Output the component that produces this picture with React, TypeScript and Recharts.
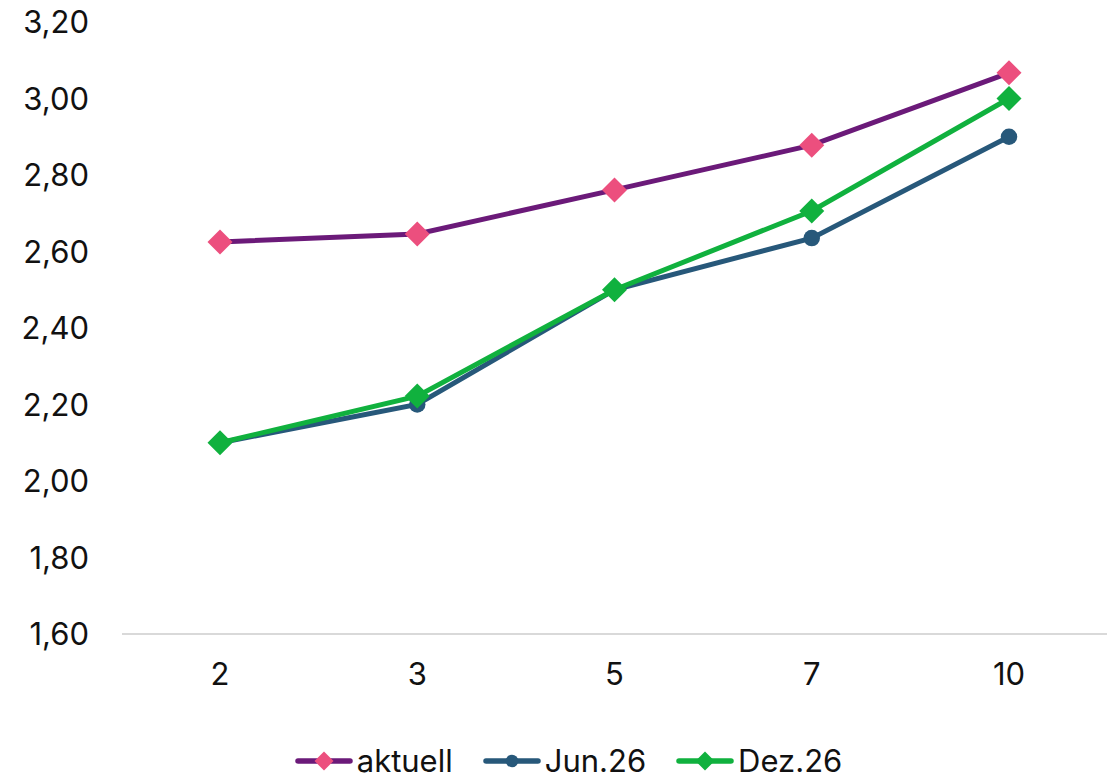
import { LineChart, Line, XAxis, YAxis, CartesianGrid, Legend } from "recharts";

const maturities = ["2", "3", "5", "7", "10"];
const aktuell = [2.625, 2.646, 2.761, 2.878, 3.067];
const jun26 = [2.1, 2.2, 2.5, 2.635, 2.9];
const dez26 = [2.1, 2.222, 2.5, 2.706, 3.0];
const yTicks = [1.6, 1.8, 2.0, 2.2, 2.4, 2.6, 2.8, 3.0, 3.2];

const data = maturities.map((m, i) => ({
  name: m,
  aktuell: aktuell[i],
  jun: jun26[i],
  dez: dez26[i],
}));

const FONT = "Inter, 'Noto Sans', sans-serif";

const series = [
  { key: "aktuell", label: "aktuell", line: "#6B1A79", marker: "#EC4F7E", shape: "diamond" },
  { key: "jun", label: "Jun.26", line: "#27587A", marker: "#27587A", shape: "circle" },
  { key: "dez", label: "Dez.26", line: "#10B13E", marker: "#10B13E", shape: "diamond" },
];

const marker = (shape: string, color: string, cx: number, cy: number, size: number, key?: string) =>
  shape === "circle" ? (
    <circle key={key} cx={cx} cy={cy} r={size * 0.66} fill={color} />
  ) : (
    <path
      key={key}
      d={`M${cx},${cy - size} L${cx + size},${cy} L${cx},${cy + size} L${cx - size},${cy} Z`}
      fill={color}
    />
  );

const renderLegend = () => (
  <div
    style={{
      display: "flex",
      justifyContent: "center",
      alignItems: "center",
      fontFamily: FONT,
      fontSize: 31,
      lineHeight: "32px",
      color: "#111",
      height: 36,
      boxSizing: "border-box",
      paddingTop: 4,
      paddingLeft: 60,
    }}
  >
    {series.map((s) => (
      <div key={s.key} style={{ display: "flex", alignItems: "center", marginRight: 30 }}>
        <svg width={58} height={24} style={{ marginRight: 4 }}>
          <line x1={3} y1={12} x2={55} y2={12} stroke={s.line} strokeWidth={5.5} strokeLinecap="round" />
          {marker(s.shape, s.marker, 29, 12, 9.5)}
        </svg>
        <span>{s.label}</span>
      </div>
    ))}
  </div>
);

export default function App() {
  return (
    <div style={{ position: "absolute", left: 0, top: 0 }}>
      <LineChart
        width={1111}
        height={777}
        data={data}
        margin={{ top: 22, right: 4, left: 0, bottom: 0 }}
      >
        <CartesianGrid horizontal={false} vertical={false} />
        <XAxis
          dataKey="name"
          axisLine={{ stroke: "#D9D9D9", strokeWidth: 2 }}
          tickLine={false}
          tickMargin={23}
          height={107}
          padding={{ left: 98, right: 98 }}
          tick={{ fill: "#111", fontSize: 31, fontFamily: FONT }}
        />
        <YAxis
          domain={[1.6, 3.2]}
          ticks={yTicks}
          axisLine={false}
          tickLine={false}
          width={122}
          tickMargin={27}
          tick={{ fill: "#111", fontSize: 31, fontFamily: FONT }}
          tickFormatter={(v: number) => v.toFixed(2).replace(".", ",")}
        />
        <Legend verticalAlign="bottom" height={36} content={renderLegend} />
        {series.map((s) => (
          <Line
            key={s.key}
            dataKey={s.key}
            name={s.label}
            type="linear"
            stroke={s.line}
            strokeWidth={5}
            isAnimationActive={false}
            dot={(p: any) => marker(s.shape, s.marker, p.cx, p.cy, 12.5, `${s.key}-${p.index}`)}
            activeDot={false}
          />
        ))}
      </LineChart>
    </div>
  );
}
